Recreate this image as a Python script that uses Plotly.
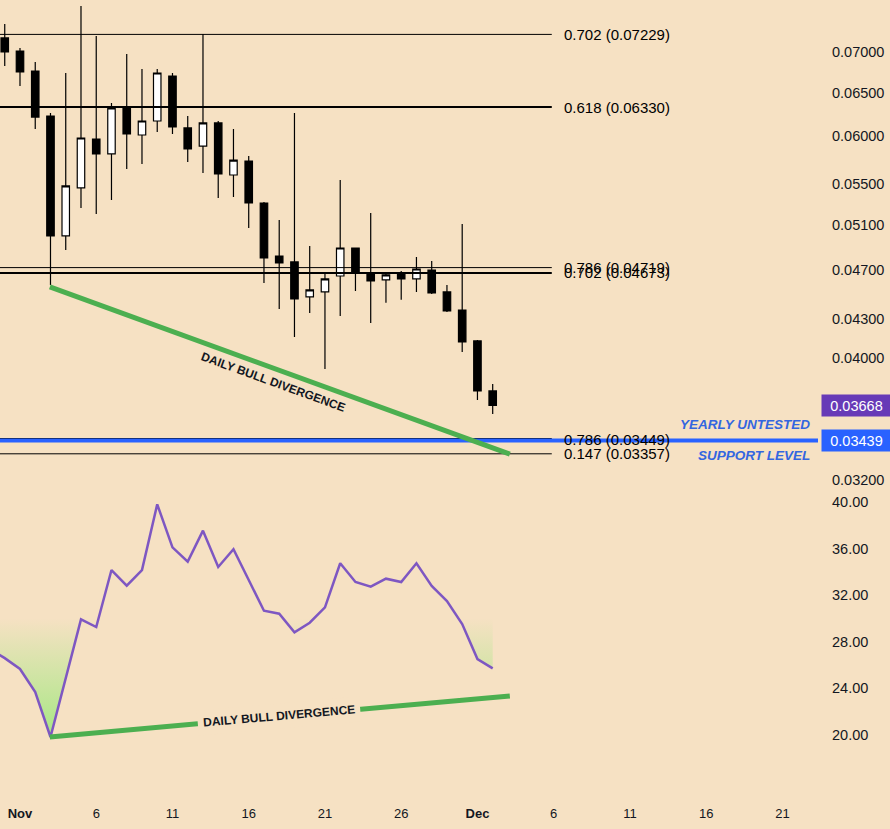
import numpy as np
import pandas as pd
import plotly.graph_objects as go

# ---------------- data ----------------
candle_dates = pd.date_range("2022-10-31", periods=33, freq="D")
opens = [0.07182, 0.07013, 0.06761, 0.06227, 0.05000, 0.05459, 0.05970, 0.05809, 0.06330, 0.06014,
         0.06170, 0.06699, 0.06092, 0.05894, 0.06148, 0.05590, 0.05735, 0.05311, 0.04820, 0.04768,
         0.04473, 0.04514, 0.04647, 0.04891, 0.04673, 0.04614, 0.04673, 0.04622, 0.04698, 0.04514,
         0.04367, 0.04127, 0.03766]
highs = [0.07368, 0.07051, 0.06873, 0.06261, 0.06736, 0.07614, 0.07208, 0.06377, 0.06974, 0.06786,
         0.06786, 0.06736, 0.06227, 0.07234, 0.06170, 0.06080, 0.05788, 0.05320, 0.05148, 0.06261,
         0.04909, 0.04673, 0.05539, 0.04895, 0.05215, 0.04664, 0.04690, 0.04811, 0.04776, 0.04572,
         0.05111, 0.04134, 0.03814]
lows = [0.06823, 0.06578, 0.06080, 0.04572, 0.04873, 0.05262, 0.05205, 0.05340, 0.05652, 0.05703,
        0.06047, 0.06025, 0.05724, 0.05610, 0.05360, 0.05369, 0.05073, 0.04588, 0.04375, 0.04157,
        0.04343, 0.03921, 0.04320, 0.04522, 0.04265, 0.04425, 0.04449, 0.04514, 0.04497, 0.04351,
        0.04044, 0.03704, 0.03611]
closes = [0.07000, 0.06749, 0.06215, 0.05000, 0.05479, 0.05981, 0.05809, 0.06319, 0.06025, 0.06170,
          0.06736, 0.06103, 0.05862, 0.06148, 0.05600, 0.05745, 0.05311, 0.04803, 0.04759, 0.04457,
          0.04530, 0.04622, 0.04891, 0.04681, 0.04605, 0.04656, 0.04622, 0.04707, 0.04505, 0.04359,
          0.04119, 0.03766, 0.03668]

rsi_dates = pd.date_range("2022-10-30", periods=34, freq="D")
rsi_values = [27.40, 26.60, 25.67, 23.69, 19.83, 24.89, 29.93, 29.27, 34.16, 32.82,
              34.16, 39.80, 36.11, 34.88, 37.54, 34.42, 35.94, 33.30, 30.67, 30.41,
              28.82, 29.64, 30.96, 34.74, 33.13, 32.73, 33.42, 33.13, 34.74, 32.79,
              31.50, 29.53, 26.52, 25.72]
oversold = 30

fib_ratios = ["0.702", "0.618", "0.786", "0.702", "0.786", "0.147"]
fib_prices = [0.07229, 0.06330, 0.04719, 0.04673, 0.03449, 0.03357]
fib_widths = [1, 2, 1, 2, 2, 1]
fib_span = ["2022-10-25", "2022-12-05 21:00"]

support_price = 0.03439
last_price = 0.03668

div_dates = ["2022-11-02 23:00", "2022-12-03 03:00"]
price_div = [0.04555, 0.03355]
rsi_div = [19.83, 23.35]

price_ticks = [0.032, 0.040, 0.043, 0.047, 0.051, 0.055, 0.060, 0.065, 0.070]
rsi_ticks = [20, 24, 28, 32, 36, 40]
x_tick_dates = ["2022-11-01", "2022-11-06", "2022-11-11", "2022-11-16", "2022-11-21", "2022-11-26",
                "2022-12-01", "2022-12-06", "2022-12-11", "2022-12-16", "2022-12-21"]
x_tick_text = ["<b>Nov</b>", "6", "11", "16", "21", "26", "<b>Dec</b>", "6", "11", "16", "21"]

# ---------------- style ----------------
BG = "#F6E1C3"
INK = "#131722"
GREEN = "#4CAF50"
PURPLE = "#7E57C2"
BLUE = "#2962FF"
FONT = "Liberation Sans, Arial, sans-serif"

fig = go.Figure()

# fib lines
for p, w in zip(fib_prices, fib_widths):
    fig.add_trace(go.Scatter(x=fib_span, y=[p, p], mode="lines", xaxis="x", yaxis="y",
                             line=dict(color="#000000", width=w), hoverinfo="skip", showlegend=False))

# support line
fig.add_trace(go.Scatter(x=["2022-10-25", "2023-01-10"], y=[support_price, support_price], mode="lines",
                         xaxis="x", yaxis="y", line=dict(color=BLUE, width=4),
                         hoverinfo="skip", showlegend=False))

# candles
fig.add_trace(go.Candlestick(x=candle_dates, open=opens, high=highs, low=lows, close=closes,
                             xaxis="x", yaxis="y",
                             increasing=dict(fillcolor="#FFFFFF", line=dict(color="#000000", width=1.2)),
                             decreasing=dict(fillcolor="#000000", line=dict(color="#000000", width=1.2)),
                             whiskerwidth=0, showlegend=False))

# price divergence line
fig.add_trace(go.Scatter(x=div_dates, y=price_div, mode="lines", xaxis="x", yaxis="y",
                         line=dict(color=GREEN, width=5), hoverinfo="skip", showlegend=False))

# RSI oversold fill (below 30)
fx, fy = [], []
for i, (d, v) in enumerate(zip(rsi_dates, rsi_values)):
    if i > 0:
        v0 = rsi_values[i - 1]
        if (v0 - oversold) * (v - oversold) < 0:
            t = (oversold - v0) / (v - v0)
            fx.append(rsi_dates[i - 1] + (d - rsi_dates[i - 1]) * t)
            fy.append(oversold)
    fx.append(d)
    fy.append(min(v, oversold))

fig.add_trace(go.Scatter(x=fx, y=[oversold] * len(fx), mode="lines", xaxis="x", yaxis="y2",
                         line=dict(width=0, color="rgba(0,0,0,0)"), hoverinfo="skip", showlegend=False))
fig.add_trace(go.Scatter(x=fx, y=fy, mode="lines", xaxis="x", yaxis="y2", fill="tonexty",
                         line=dict(width=0, color="rgba(0,0,0,0)"),
                         fillgradient=dict(type="vertical", start=19.5, stop=oversold,
                                           colorscale=[[0, "rgba(165,232,130,1)"],
                                                       [1, "rgba(165,232,130,0)"]]),
                         hoverinfo="skip", showlegend=False))

# RSI line
fig.add_trace(go.Scatter(x=rsi_dates, y=rsi_values, mode="lines", xaxis="x", yaxis="y2",
                         line=dict(color=PURPLE, width=2.5), showlegend=False))

# RSI divergence line
fig.add_trace(go.Scatter(x=div_dates, y=rsi_div, mode="lines", xaxis="x", yaxis="y2",
                         line=dict(color=GREEN, width=5), hoverinfo="skip", showlegend=False))

# ---------------- annotations ----------------
ann = []
for r, p in zip(fib_ratios, fib_prices):
    ann.append(dict(x=fib_span[1], y=np.log10(p), xref="x", yref="y", xanchor="left", yanchor="middle",
                    xshift=10, showarrow=False, text=f"{r} ({p:.5f})",
                    font=dict(family=FONT, size=15, color="#000000")))

ann.append(dict(x="2022-11-17 14:00", y=-1.417, xref="x", yref="y", showarrow=False, textangle=20,
                text="<b>DAILY BULL DIVERGENCE</b>", font=dict(family=FONT, size=12, color=INK)))
ann.append(dict(x="2022-11-17 23:30", y=21.6, xref="x", yref="y2", showarrow=False, textangle=-5,
                text="<b>DAILY BULL DIVERGENCE</b>", font=dict(family=FONT, size=12, color=INK),
                bgcolor=BG, borderpad=5))

ann.append(dict(x=0.9927, y=np.log10(support_price), xref="paper", yref="y", xanchor="right",
                yanchor="middle", yshift=16, showarrow=False, text="<b><i>YEARLY UNTESTED</i></b>",
                font=dict(family=FONT, size=13.5, color="#3366E0")))
ann.append(dict(x=0.9927, y=np.log10(support_price), xref="paper", yref="y", xanchor="right",
                yanchor="middle", yshift=-15, showarrow=False, text="<b><i>SUPPORT LEVEL</i></b>",
                font=dict(family=FONT, size=13.5, color="#3366E0")))

for p, c in [(last_price, "#673AB7"), (support_price, BLUE)]:
    ann.append(dict(x=1, y=np.log10(p), xref="paper", yref="y", xanchor="left", yanchor="middle",
                    xshift=3, showarrow=False, text=f"{p:.5f}", width=69, height=21, align="center",
                    bgcolor=c, borderpad=0, font=dict(family=FONT, size=14.5, color="#FFFFFF")))

split = 300 / 790
fig.update_layout(
    width=890, height=829,
    margin=dict(l=0, r=72, t=0, b=39),
    paper_bgcolor=BG, plot_bgcolor=BG,
    showlegend=False,
    xaxis=dict(type="date", range=["2022-10-30 16:32", "2022-12-23 08:00"], anchor="y2",
               tickvals=x_tick_dates, ticktext=x_tick_text, ticks="", showgrid=False,
               zeroline=False, showline=False, rangeslider=dict(visible=False),
               tickfont=dict(family=FONT, size=13, color=INK), ticklabelstandoff=14),
    yaxis=dict(type="log", domain=[split, 1], range=[-1.5028, -1.1136], side="right", anchor="x",
               tickvals=price_ticks, ticktext=[f"{v:.5f}" for v in price_ticks], ticks="",
               showgrid=False, zeroline=False, showline=False, ticklabelstandoff=13,
               tickfont=dict(family=FONT, size=14.5, color=INK)),
    yaxis2=dict(domain=[0, split], range=[15.28, 41.03], side="right", anchor="x",
                tickvals=rsi_ticks, ticktext=[f"{v:.2f}" for v in rsi_ticks], ticks="",
                showgrid=False, zeroline=False, showline=False, ticklabelstandoff=13,
                tickfont=dict(family=FONT, size=14.5, color=INK)),
    annotations=ann,
)

fig.write_html("out.html")
